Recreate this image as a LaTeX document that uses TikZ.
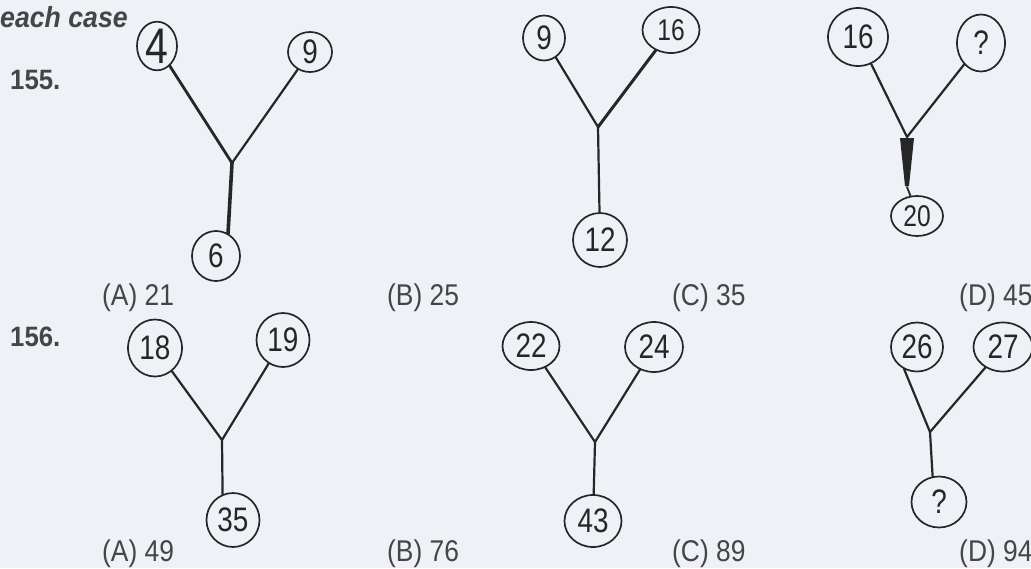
\documentclass[tikz,border=0pt]{standalone}
\usepackage{fontspec}
\usetikzlibrary{shapes.geometric}
\newfontfamily\labfont[FakeStretch=0.88]{Liberation Sans}
\newfontfamily\hdfont[FakeStretch=0.92]{Liberation Sans}
\newfontfamily\numfont[FakeStretch=0.82]{Liberation Sans}
\definecolor{bgcol}{HTML}{EEF2F7}
\definecolor{ink}{HTML}{262626}
\definecolor{txt}{HTML}{454545}
\tikzset{
  num/.style={ellipse, draw=ink, line width=1.7pt, inner sep=0pt, text=ink,
    font=\numfont\fontsize{34}{34}\selectfont},
  conn/.style={draw=ink, line width=2.2pt, line cap=round},
  lab/.style={anchor=base west, inner sep=0pt, text=txt,
    font=\labfont\fontsize{30}{30}\selectfont},
  qno/.style={anchor=base west, inner sep=0pt, text=txt,
    font=\hdfont\bfseries\fontsize{28}{28}\selectfont},
}
\begin{document}
\begin{tikzpicture}[x=1pt,y=-1pt]
\useasboundingbox (0,0) rectangle (1031,568);
\fill[bgcol] (0,0) rectangle (1031,568);

% headings
\node[qno, font=\hdfont\bfseries\itshape\fontsize{29}{29}\selectfont] (hd) at (0,27) {each case};
\node[qno] (q155) at (10,89) {155.};
\node[qno] (q156) at (10,346) {156.};

% ---- 155, figure 1
\node[num, minimum width=40pt, minimum height=40pt, font=\numfont\fontsize{50}{50}\selectfont] (a1) at (157,46) {4};
\node[num, minimum width=44pt, minimum height=40pt] (b1) at (310,52) {9};
\coordinate (j1) at (232,163);
\node[num, minimum width=48pt, minimum height=50pt] (c1) at (216,256) {6};
\draw[conn, line width=2.8pt] (a1) -- (j1);
\draw[conn] (b1) -- (j1);
\draw[conn, line width=3.6pt] (j1) -- (c1.62);

% ---- 155, figure 2
\node[num, minimum width=42pt, minimum height=45pt] (a2) at (544,38) {9};
\node[num, minimum width=57pt, minimum height=46pt, font=\numfont\fontsize{30}{30}\selectfont] (b2) at (671,30) {16};
\coordinate (j2) at (598,127);
\node[num, minimum width=54pt, minimum height=54pt] (c2) at (600,240) {12};
\draw[conn] (a2) -- (j2);
\draw[conn, line width=3pt] (b2) -- (j2);
\draw[conn] (j2) -- (c2);

% ---- 155, figure 3
\node[num, minimum width=60pt, minimum height=58pt] (a3) at (858,37) {16};
\node[num, minimum width=48pt, minimum height=57pt] (b3) at (981,43) {?};
\coordinate (j3) at (907,137);
\coordinate (w3) at (907,187);
\node[num, minimum width=52pt, minimum height=40pt, font=\numfont\fontsize{30}{30}\selectfont] (c3) at (917,216) {20};
\draw[conn] (a3) -- (j3);
\draw[conn] (b3) -- (j3);
\fill[ink] (900,138) -- (914,138) -- (909,186) -- (905,186) -- cycle;
\draw[conn, line width=1.8pt] (w3) -- (c3.108);

\node[lab] (o1a) at (102,305) {(A) 21};
\node[lab] (o1b) at (387,305) {(B) 25};
\node[lab] (o1c) at (672,305) {(C) 35};
\node[lab] (o1d) at (959,305) {(D) 45};

% ---- 156, figure 1
\node[num, minimum width=54pt, minimum height=57pt] (a4) at (155,348) {18};
\node[num, minimum width=53pt, minimum height=54pt] (b4) at (283,340) {19};
\coordinate (j4) at (222,440);
\node[num, minimum width=53pt, minimum height=54pt] (c4) at (233,520) {35};
\draw[conn] (a4) -- (j4);
\draw[conn] (b4) -- (j4);
\draw[conn] (j4) -- (c4.112);

% ---- 156, figure 2
\node[num, minimum width=57pt, minimum height=48pt] (a5) at (531,346) {22};
\node[num, minimum width=58pt, minimum height=50pt] (b5) at (654,347) {24};
\coordinate (j5) at (595,442);
\node[num, minimum width=57pt, minimum height=52pt] (c5) at (593,521) {43};
\draw[conn] (a5) -- (j5);
\draw[conn] (b5) -- (j5);
\draw[conn] (j5) -- (c5);

% ---- 156, figure 3
\node[num, minimum width=52pt, minimum height=49pt] (a6) at (917,347) {26};
\node[num, minimum width=59pt, minimum height=49pt] (b6) at (1003,347) {27};
\coordinate (j6) at (930,432);
\node[num, minimum width=55pt, minimum height=51pt] (c6) at (939,502) {?};
\draw[conn] (a6.240) -- (j6);
\draw[conn] (b6) -- (j6);
\draw[conn] (j6) -- (c6.104);

\node[lab] (o2a) at (102,561) {(A) 49};
\node[lab] (o2b) at (387,561) {(B) 76};
\node[lab] (o2c) at (672,561) {(C) 89};
\node[lab] (o2d) at (959,561) {(D) 94};
\end{tikzpicture}
\end{document}
